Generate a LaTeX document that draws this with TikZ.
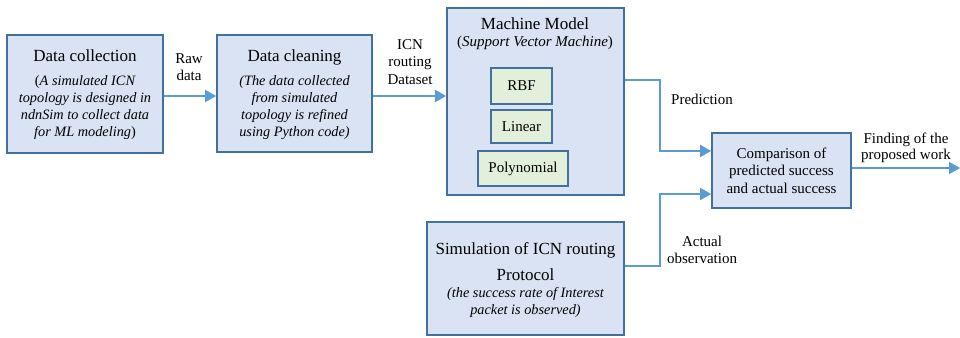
\documentclass[tikz,border=0pt]{standalone}
\usepackage{fontspec}
\setmainfont{Liberation Serif}
\usetikzlibrary{arrows.meta}
\definecolor{boxfill}{HTML}{DAE3F3}
\definecolor{boxline}{HTML}{41719C}
\definecolor{greenfill}{HTML}{E2EFDA}
\definecolor{arrowc}{HTML}{5B9BD5}
\tikzset{
  bluebox/.style={draw=boxline, fill=boxfill, line width=1.7pt, inner sep=0pt},
  greenbox/.style={draw=boxline, fill=greenfill, line width=1.7pt, inner sep=0pt, font=\fontsize{15}{17}\selectfont},
  conn/.style={draw=arrowc, line width=1.7pt, -{Triangle[length=11pt,width=12pt]}},
  head/.style={font=\fontsize{17}{20}\selectfont, inner sep=0pt, anchor=base},
  body/.style={font=\fontsize{14.3}{17}\selectfont\itshape, align=center, inner sep=0pt},
  lbl/.style={font=\fontsize{15}{16.5}\selectfont, align=center, inner sep=0pt},
}
\begin{document}
\begin{tikzpicture}[x=1pt,y=-1pt]
\useasboundingbox (0,0) rectangle (960,337);
% boxes
\node[bluebox, minimum width=156pt, minimum height=118pt] (dc) at (85,94) {};
\node[bluebox, minimum width=155pt, minimum height=117pt] (cl) at (294.5,93.5) {};
\node[bluebox, minimum width=177pt, minimum height=187pt] (mm) at (535.5,101.5) {};
\node[greenbox, minimum width=61pt, minimum height=36pt] (rbf) at (521.5,86) {RBF};
\node[greenbox, minimum width=61pt, minimum height=33pt] (lin) at (521.5,126.5) {Linear};
\node[greenbox, minimum width=90pt, minimum height=35pt] (poly) at (523,168.5) {Polynomial};
\node[bluebox, minimum width=139pt, minimum height=75pt, align=center,
      font=\fontsize{15}{17.5}\selectfont] (cmp) at (781.5,170.5)
      {Comparison of\\predicted success\\and actual success};
\node[bluebox, minimum width=197pt, minimum height=113pt] (sim) at (525.5,278.5) {};
% box texts
\node[head] (dch) at (85,62) {Data collection};
\node[body] (dcb) at (85,108) {\upshape(\itshape A simulated ICN\\topology is designed in\\ndnSim to collect data\\for ML modeling\upshape)};
\node[head] (clh) at (294.5,62) {Data cleaning};
\node[body] (clb) at (294.5,108) {(The data collected\\from simulated\\topology is refined\\using Python code)};
\node[head] (mmh) at (535,30) {Machine Model};
\node[font=\fontsize{15}{17}\selectfont, inner sep=0pt, anchor=base] (mms) at (535,47) {(\textit{Support Vector Machine})};
\node[head] (simh1) at (525.5,254) {Simulation of ICN routing};
\node[head] (simh2) at (525.5,280) {Protocol};
\node[body] (simb) at (525.5,302) {(the success rate of Interest\\packet is observed)};
% labels
\node[lbl] (l1) at (189,67) {Raw\\data};
\node[lbl, font=\fontsize{15}{17.5}\selectfont] (l2) at (410,62) {ICN\\routing\\Dataset};
\node[lbl] (l3) at (702,99) {Prediction};
\node[lbl] (l4) at (906,148) {Finding of the\\proposed work};
\node[lbl] (l5) at (702,250) {Actual\\observation};
% connectors
\coordinate (out) at (960,168);
\draw[conn] (dc.east |- 0,96) -- (cl.west |- 0,96);
\draw[conn] (cl.east |- 0,96) -- (mm.west |- 0,96);
\draw[conn] (mm.east |- 0,80) -- (660,80) -- (660,151) -- (cmp.west |- 0,151);
\draw[conn] (sim.east |- 0,266) -- (660,266) -- (660,194) -- (cmp.west |- 0,194);
\draw[conn] (cmp.east |- out) -- (out);
\end{tikzpicture}
\end{document}
